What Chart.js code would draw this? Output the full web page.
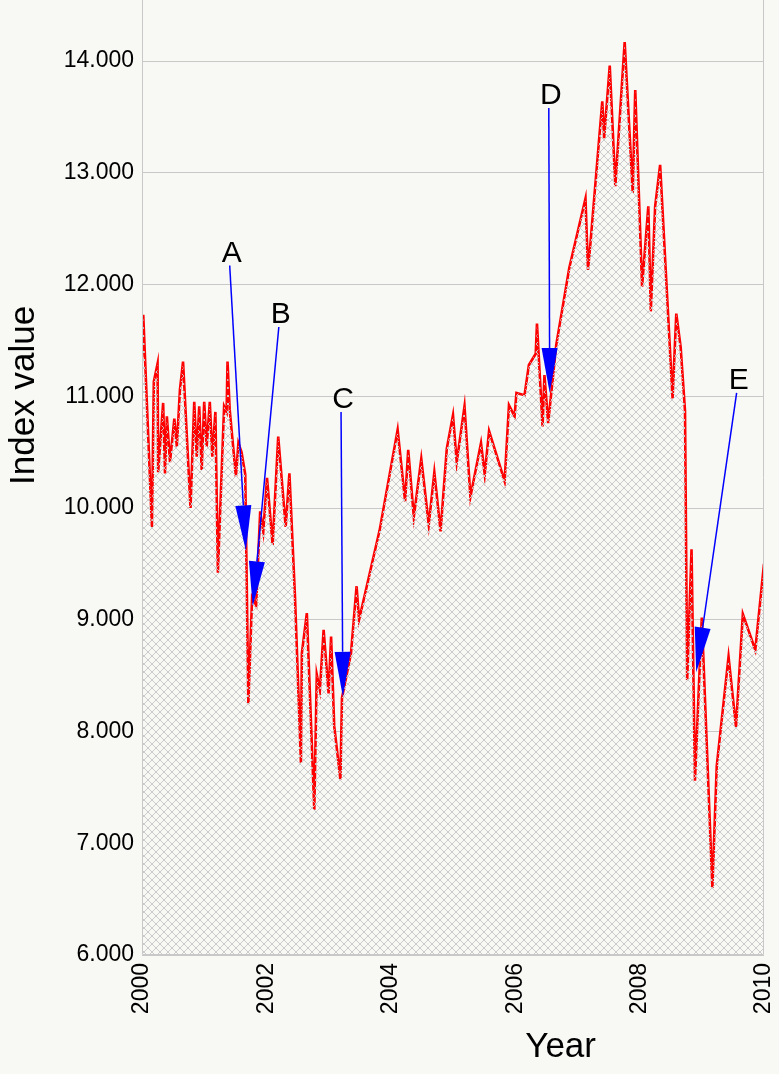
<!DOCTYPE html>
<html>
<head>
<meta charset="utf-8">
<script src="https://cdn.jsdelivr.net/npm/chart.js@4.4.1/dist/chart.umd.min.js"></script>
<style>
  html, body { margin: 0; padding: 0; background: #f8f8f4; }
  #wrap { width: 779px; height: 1074px; }
</style>
</head>
<body>
<div id="wrap"><canvas id="chart" width="779" height="1074"></canvas></div>
<script>
// index series
var years = [
  2000.00, 2000.02, 2000.16, 2000.19, 2000.25, 2000.26, 2000.34, 2000.37, 2000.40, 2000.45,
  2000.52, 2000.56, 2000.61, 2000.66, 2000.78, 2000.84, 2000.88, 2000.92, 2000.96, 2001.00,
  2001.04, 2001.09, 2001.13, 2001.18, 2001.22, 2001.32, 2001.36, 2001.375, 2001.41, 2001.51,
  2001.55, 2001.60, 2001.66, 2001.71, 2001.77, 2001.835, 2001.90, 2001.95, 2002.01, 2002.10,
  2002.19, 2002.31, 2002.37, 2002.46, 2002.555, 2002.57, 2002.65, 2002.77, 2002.81, 2002.86,
  2002.92, 2003.00, 2003.04, 2003.09, 2003.19, 2003.215, 2003.36, 2003.45, 2003.49, 2003.82,
  2004.11, 2004.23, 2004.28, 2004.37, 2004.49, 2004.61, 2004.70, 2004.80, 2004.90, 2005.00,
  2005.06, 2005.185, 2005.28, 2005.45, 2005.51, 2005.58, 2005.83, 2005.90, 2005.99, 2006.02,
  2006.15, 2006.22, 2006.33, 2006.35, 2006.44, 2006.47, 2006.53, 2006.66, 2006.87, 2007.13,
  2007.17, 2007.21, 2007.40, 2007.43, 2007.52, 2007.61, 2007.76, 2007.89, 2007.93, 2008.04,
  2008.14, 2008.18, 2008.25, 2008.33, 2008.53, 2008.59, 2008.66, 2008.73, 2008.765, 2008.835,
  2008.89, 2009.00, 2009.17, 2009.24, 2009.43, 2009.55, 2009.66, 2009.86, 2010.00
];
var values = [
  11.35, 11.73, 9.83, 11.13, 11.29, 10.32, 10.94, 10.31, 10.82, 10.41,
  10.80, 10.55, 11.06, 11.31, 10.00, 10.95, 10.46, 10.91, 10.34, 10.95,
  10.55, 10.95, 10.46, 10.86, 9.42, 10.91, 10.86, 11.31, 10.88, 10.28,
  10.58, 10.50, 10.30, 8.25, 9.20, 9.13, 9.97, 9.79, 10.27, 9.67,
  10.64, 9.83, 10.31, 9.20, 7.72, 8.70, 9.06, 7.30, 8.51, 8.37,
  8.91, 8.34, 8.85, 8.05, 7.57, 8.30, 8.70, 9.30, 9.00, 9.80,
  10.70, 10.06, 10.52, 9.92, 10.44, 9.85, 10.32, 9.79, 10.53, 10.83,
  10.41, 10.91, 10.10, 10.58, 10.30, 10.69, 10.24, 10.92, 10.82, 11.03,
  11.01, 11.28, 11.38, 11.65, 10.73, 11.19, 10.76, 11.46, 12.15, 12.77,
  12.13, 12.37, 13.64, 13.31, 13.96, 12.88, 14.17, 12.82, 13.74, 11.98,
  12.70, 11.76, 12.70, 13.07, 10.98, 11.74, 11.44, 10.87, 8.46, 9.63,
  7.56, 9.02, 6.60, 7.69, 8.67, 8.04, 9.05, 8.73, 9.50
];

var xTicks = [2000, 2002, 2004, 2006, 2008, 2010];
var yTicks = [6, 7, 8, 9, 10, 11, 12, 13, 14];

// arrows: from the label down to the marked point
var annoLabels = ['A', 'B', 'C', 'D', 'E'];
var annoFromYear = [2001.41, 2002.20, 2003.20, 2006.54, 2009.56];
var annoFromValue = [12.17, 11.62, 10.86, 13.58, 11.03];
var annoToYear = [2001.67, 2001.78, 2003.23, 2006.555, 2008.91];
var annoToValue = [9.62, 9.12, 8.31, 11.03, 8.53];

var bg = '#f8f8f4';
var gridClr = '#c8c8c8';
var textFont = '"Liberation Sans", Arial, sans-serif';

function make_hatch() {
  // crisp 8px cross-hatch, transparent between the lines
  var c = document.createElement('canvas');
  c.width = 8;
  c.height = 8;
  var g = c.getContext('2d');
  g.fillStyle = '#cbcbcb';
  for (let i = 0; i < 8; i++) {
    g.fillRect(i, i, 1, 1);
    g.fillRect(7 - i, i, 1, 1);
  }
  return g.createPattern(c, 'repeat');
}

var pts = years.map(function(y, i) { return {x: y, y: values[i]}; });

var annoPlugin = {
  id: 'anno',
  afterDatasetsDraw: function(chart) {
    var ctx = chart.ctx;
    var xs = chart.scales.x, ys = chart.scales.y;
    var area = chart.chartArea;
    ctx.save();

    // frame: left, bottom, right
    ctx.strokeStyle = gridClr;
    ctx.lineWidth = 1;
    ctx.beginPath();
    ctx.moveTo(area.left + 0.5, area.top);
    ctx.lineTo(area.left + 0.5, area.bottom - 0.5);
    ctx.lineTo(area.right - 0.5, area.bottom - 0.5);
    ctx.lineTo(area.right - 0.5, area.top);
    ctx.stroke();

    // arrows
    for (let i = 0; i < annoLabels.length; i++) {
      var x0 = xs.getPixelForValue(annoFromYear[i]);
      var y0 = ys.getPixelForValue(annoFromValue[i]);
      var x1 = xs.getPixelForValue(annoToYear[i]);
      var y1 = ys.getPixelForValue(annoToValue[i]);
      var a = Math.atan2(y1 - y0, x1 - x0);
      var headLen = 45, headHalf = 8;
      var bx = x1 - headLen * Math.cos(a);
      var by = y1 - headLen * Math.sin(a);
      ctx.strokeStyle = '#0000ff';
      ctx.fillStyle = '#0000ff';
      ctx.lineWidth = 1.5;
      ctx.beginPath();
      ctx.moveTo(x0, y0);
      ctx.lineTo(bx, by);
      ctx.stroke();
      ctx.beginPath();
      ctx.moveTo(x1, y1);
      ctx.lineTo(bx + headHalf * Math.sin(a), by - headHalf * Math.cos(a));
      ctx.lineTo(bx - headHalf * Math.sin(a), by + headHalf * Math.cos(a));
      ctx.closePath();
      ctx.fill();

      ctx.fillStyle = '#000';
      ctx.font = '30px ' + textFont;
      ctx.textAlign = 'center';
      ctx.textBaseline = 'alphabetic';
      ctx.fillText(annoLabels[i], x0 + 2, y0 - 4);
    }

    // axis titles
    ctx.fillStyle = '#000';
    ctx.font = '35px ' + textFont;
    ctx.textAlign = 'center';
    ctx.textBaseline = 'middle';
    ctx.fillText('Year', area.left + 0.673 * (area.right - area.left), area.bottom + 92);
    ctx.translate(24, area.top + 0.414 * (area.bottom - area.top));
    ctx.rotate(-Math.PI / 2);
    ctx.fillText('Index value', 0, 0);
    ctx.restore();
  }
};

var ctx = document.getElementById('chart').getContext('2d');
var hatch = make_hatch();

window.myChart = new Chart(ctx, {
  type: 'line',
  data: {
    datasets: [
      {
        label: 'hatch',
        data: pts,
        borderWidth: 0,
        pointRadius: 0,
        fill: 'start',
        backgroundColor: hatch
      },
      {
        label: 'Index value',
        data: pts,
        borderColor: '#ff0000',
        borderWidth: 2.6,
        pointRadius: 0,
        tension: 0,
        fill: 'start',
        backgroundColor: bg
      }
    ]
  },
  options: {
    responsive: false,
    animation: false,
    devicePixelRatio: 1,
    layout: {
      padding: {top: 0, right: 15, bottom: 0, left: 0}
    },
    scales: {
      x: {
        type: 'linear',
        min: 2000,
        max: 2010,
        afterBuildTicks: function(s) {
          s.ticks = xTicks.map(function(v) { return {value: v}; });
        },
        afterFit: function(s) {
          s.height = 119;
          s.paddingLeft = 0;
          s.paddingRight = 0;
        },
        grid: {display: false, drawTicks: false},
        border: {display: false},
        ticks: {
          minRotation: 90,
          maxRotation: 90,
          padding: 8,
          color: '#000',
          font: {family: textFont, size: 23},
          callback: function(v) { return String(v); }
        }
      },
      y: {
        type: 'linear',
        min: 6,
        max: 14.546,
        afterBuildTicks: function(s) {
          s.ticks = yTicks.map(function(v) { return {value: v}; });
        },
        afterFit: function(s) {
          s.width = 142;
          s.paddingTop = 0;
          s.paddingBottom = 0;
        },
        grid: {color: gridClr, lineWidth: 1, drawTicks: false},
        border: {display: false},
        ticks: {
          padding: 8,
          color: '#000',
          font: {family: textFont, size: 23},
          callback: function(v) { return Number(v).toFixed(3); }
        }
      }
    },
    plugins: {
      legend: {display: false},
      tooltip: {enabled: false}
    }
  },
  plugins: [annoPlugin]
});
</script>
</body>
</html>
